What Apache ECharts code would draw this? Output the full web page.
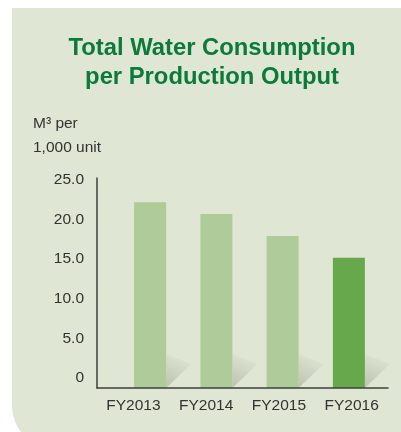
<!DOCTYPE html>
<html>
<head>
<meta charset="utf-8">
<script src="https://cdn.jsdelivr.net/npm/echarts@6/dist/echarts.min.js"></script>
<style>
  html, body { margin: 0; padding: 0; background: #fff; }
  #chart { width: 401px; height: 432px; }
</style>
</head>
<body>
<div id="chart"></div>
<script>
// chart data
var categories = ["FY2013", "FY2014", "FY2015", "FY2016"];
var waterPerUnit = [22.1, 20.7, 18.1, 15.5];
var tickLabels = ["0", "5.0", "10.0", "15.0", "20.0", "25.0"];
var tickValues = [0, 5, 10, 15, 20, 25];

var labelFont = "'Liberation Sans', Arial, sans-serif";
var lightBar = "#afcb99";
var darkBar = "#66a84b";

var chart = echarts.init(document.getElementById("chart"));

chart.setOption({
  animation: false,
  backgroundColor: "#fff",
  graphic: [
    {
      type: "rect",
      z: -10,
      silent: true,
      shape: { x: 12, y: 8, width: 420, height: 440, r: [0, 0, 0, 42] },
      style: { fill: "#dfe6d4" },
    },
    {
      type: "text",
      left: 33,
      top: 112,
      style: {
        text: "M³ per\n1,000 unit",
        font: "15.5px " + labelFont,
        lineHeight: 24,
        fill: "#333",
      },
    },
  ],
  title: {
    text: "Total Water Consumption\nper Production Output",
    left: 212,
    textAlign: "center",
    top: 34,
    padding: 0,
    textStyle: {
      fontFamily: labelFont,
      fontWeight: "bold",
      fontSize: 23.8,
      lineHeight: 29,
      color: "#0b7a3b",
    },
  },
  grid: [
    // frame: axis lines + category labels
    { left: 97, top: 178, width: 291, height: 210 },
    // bars
    { left: 117, top: 178, width: 265, height: 210 },
    // value labels
    { left: 97, top: 180, width: 291, height: 198 },
  ],
  xAxis: [
    {
      gridIndex: 0,
      type: "category",
      data: categories,
      z: 5,
      axisLine: { lineStyle: { color: "#3f3f3f", width: 1.5 } },
      axisTick: { show: false },
      axisLabel: {
        interval: 0,
        margin: 10,
        fontFamily: labelFont,
        fontSize: 15.5,
        color: "#333",
      },
    },
    { gridIndex: 1, type: "category", data: categories, show: false },
    { gridIndex: 2, type: "category", data: categories, show: false },
  ],
  yAxis: [
    {
      gridIndex: 0,
      type: "value",
      min: 0,
      max: 25,
      z: 5,
      axisLine: { show: true, lineStyle: { color: "#3f3f3f", width: 1.5 } },
      axisTick: { show: false },
      axisLabel: { show: false },
      splitLine: { show: false },
    },
    { gridIndex: 1, type: "value", min: 0, max: 25, show: false },
    {
      gridIndex: 2,
      type: "value",
      min: 0,
      max: 25,
      interval: 5,
      axisLine: { show: false },
      axisTick: { show: false },
      splitLine: { show: false },
      axisLabel: {
        margin: 13,
        fontFamily: labelFont,
        fontSize: 15.5,
        color: "#333",
        formatter: function (v) {
          return tickLabels[tickValues.indexOf(v)];
        },
      },
    },
  ],
  series: [
    {
      // soft shadow at the foot of each bar
      type: "custom",
      xAxisIndex: 1,
      yAxisIndex: 1,
      z: 1,
      silent: true,
      data: categories.map(function (c, i) { return [i, 0]; }),
      renderItem: function (params, api) {
        var pt = api.coord([api.value(0), 0]);
        var r = pt[0] + 16;
        var b = pt[1];
        return {
          type: "polygon",
          shape: { points: [[r, b], [r + 25, b - 24], [r, b - 34]] },
          style: {
            fill: new echarts.graphic.LinearGradient(0, 1, 0.6, 0, [
              { offset: 0, color: "rgba(70,80,60,0.24)" },
              { offset: 1, color: "rgba(70,80,60,0)" },
            ]),
          },
        };
      },
    },
    {
      type: "bar",
      xAxisIndex: 1,
      yAxisIndex: 1,
      barWidth: 32,
      data: waterPerUnit.map(function (v, i) {
        return {
          value: v,
          itemStyle: { color: i === waterPerUnit.length - 1 ? darkBar : lightBar },
        };
      }),
    },
  ],
});
</script>
</body>
</html>
